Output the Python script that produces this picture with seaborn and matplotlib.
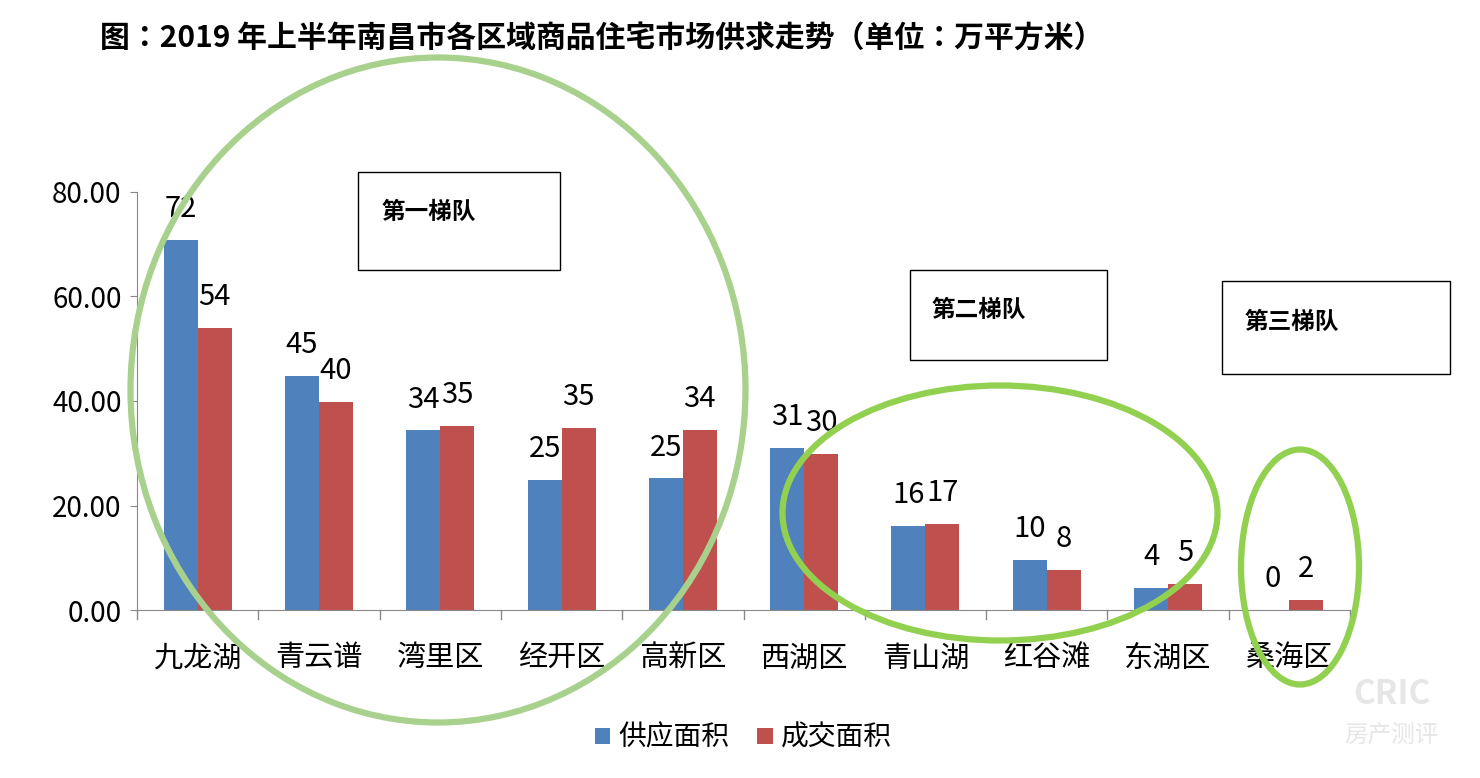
import matplotlib
matplotlib.use("Agg")
import matplotlib.pyplot as plt
import seaborn as sns
import pandas as pd
from matplotlib.patches import Ellipse, Rectangle
from matplotlib import font_manager

names = {f.name for f in font_manager.fontManager.ttflist}
cjk = next((n for n in ["Noto Sans CJK SC", "Noto Sans CJK JP", "Noto Sans CJK TC", "Noto Sans CJK KR"] if n in names), "DejaVu Sans")
plt.rcParams["font.family"] = [cjk, "DejaVu Sans"]
plt.rcParams["font.sans-serif"] = [cjk, "DejaVu Sans"]

districts = ["九龙湖", "青云谱", "湾里区", "经开区", "高新区", "西湖区", "青山湖", "红谷滩", "东湖区", "桑海区"]
supply = [70.8, 44.8, 34.4, 24.9, 25.2, 31.0, 16.1, 9.6, 4.3, 0.0]
deal = [54.0, 39.8, 35.3, 34.8, 34.5, 29.9, 16.5, 7.7, 5.0, 2.0]
supply_labels = ["72", "45", "34", "25", "25", "31", "16", "10", "4", "0"]
deal_labels = ["54", "40", "35", "35", "34", "30", "17", "8", "5", "2"]
series = ["供应面积", "成交面积"]

df = pd.DataFrame({
    "区域": districts * 2,
    "面积": supply + deal,
    "类型": [series[0]] * len(districts) + [series[1]] * len(districts),
})

W, H = 1480, 778
fig = plt.figure(figsize=(W / 100, H / 100), dpi=100)
ax = fig.add_axes([137 / W, 1 - 610 / H, (1350 - 137) / W, (610 - 192) / H])
sns.barplot(data=df, x="区域", y="面积", hue="类型", hue_order=series,
            palette=["#4f81bd", "#c0504d"], saturation=1, width=0.56, ax=ax, legend=True)
ax.set_ylim(0, 80)
ax.set_xlim(-0.5, len(districts) - 0.5)
ax.set_yticks([0, 20, 40, 60, 80])
ax.set_yticklabels([f"{v:.2f}" for v in [0, 20, 40, 60, 80]], fontsize=20)
ax.set_xlabel("")
ax.set_ylabel("")
ax.set_xticks(range(len(districts)))
ax.set_xticklabels(districts, fontsize=21)
ax.tick_params(axis="x", length=0, pad=24)
ax.tick_params(axis="y", length=5, direction="out", color="#888888", pad=6)
for x in [i + 0.5 for i in range(-1, len(districts))]:
    ax.plot([x, x], [0, -1.8], color="#888888", lw=1, clip_on=False)
for s in ["top", "right"]:
    ax.spines[s].set_visible(False)
ax.spines["left"].set_color("#888888")
ax.spines["bottom"].set_color("#888888")

for cont, labs in zip(ax.containers, [supply_labels, deal_labels]):
    for bar, lab in zip(cont, labs):
        ax.text(bar.get_x() + bar.get_width() / 2, bar.get_height() + 3.0, lab,
                ha="center", va="bottom", fontsize=21, clip_on=False)

ax.legend(loc="upper center", bbox_to_anchor=(0.5, -0.21), ncol=2, frameon=False,
          fontsize=20, handlelength=0.55, handleheight=0.55, columnspacing=1.0, handletextpad=0.3)

fig.text(100 / W, 1 - 38 / H, "图：2019 年上半年南昌市各区域商品住宅市场供求走势（单位：万平方米）",
         fontsize=21.5, fontweight="bold", va="center", ha="left")

def px(x, y):
    return (x / W, 1 - y / H)

for (cx, cy, w, h, col) in [(438, 390, 615, 665, "#a9d18e"),
                            (1000, 513, 435, 255, "#92d050"),
                            (1300, 567, 118, 235, "#92d050")]:
    fig.add_artist(Ellipse(px(cx, cy), w / W, h / H, fill=False,
                           edgecolor=col, lw=4.5, transform=fig.transFigure))

for (x0, y0, x1, y1, tx, ty, t) in [(358, 172, 560, 270, 382, 212, "第一梯队"),
                                    (910, 270, 1107, 360, 932, 310, "第二梯队"),
                                    (1222, 281, 1450, 374, 1245, 322, "第三梯队")]:
    fig.add_artist(Rectangle(px(x0, y1), (x1 - x0) / W, (y1 - y0) / H, fill=True,
                             facecolor="white", edgecolor="black", lw=1, transform=fig.transFigure))
    fig.text(tx / W, 1 - ty / H, t, fontsize=17, fontweight="bold", va="center", ha="left")

fig.text(1392 / W, 1 - 695 / H, "CRIC", fontsize=24, color="#e6e6e6", ha="center", va="center", fontweight="bold")
fig.text(1392 / W, 1 - 735 / H, "房产测评", fontsize=17, color="#e6e6e6", ha="center", va="center")

fig.savefig("out.png", dpi=100)
